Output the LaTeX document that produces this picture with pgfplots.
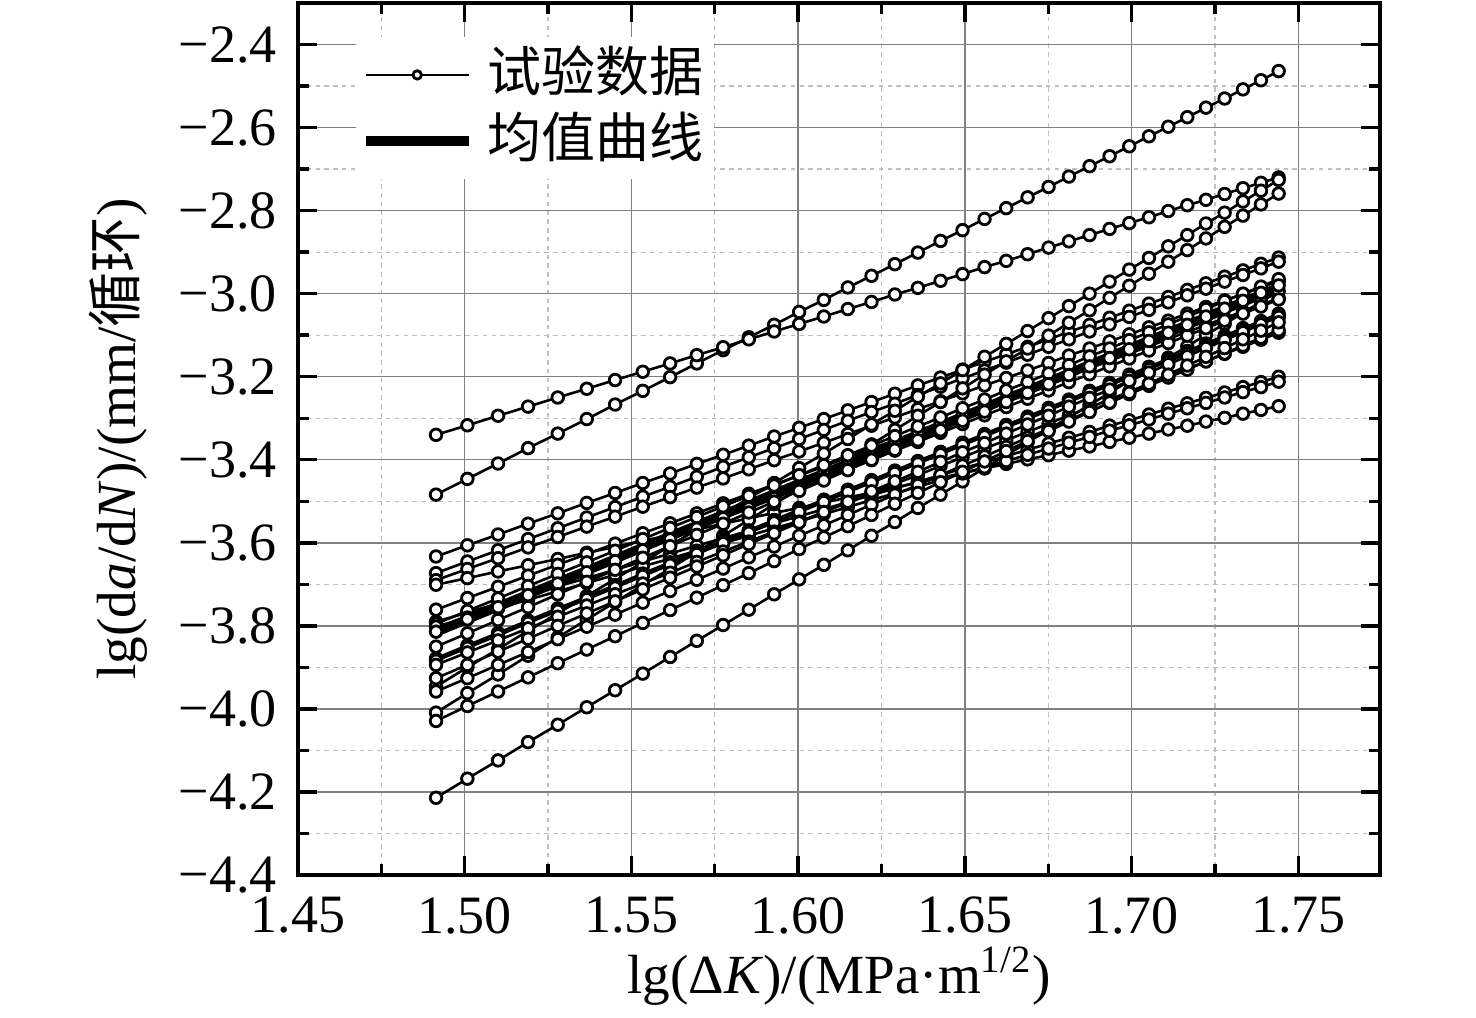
\documentclass[border=0pt]{standalone}
\usepackage{fontspec}
\setmainfont{Liberation Serif}
\newfontfamily\cjk{Noto Sans CJK SC}
\usepackage{pgfplots}
\usepackage{pgfplotstable}
\pgfplotsset{compat=1.18}

% each row is one series: x positions, then 21 test curves and the mean curve
\pgfplotstableread{
name c0 c1 c2 c3 c4 c5 c6 c7 c8 c9 c10 c11 c12 c13 c14 c15 c16 c17 c18 c19 c20 c21 c22 c23 c24 c25 c26 c27 c28 c29 c30 c31 c32 c33 c34 c35 c36
x 1.4914 1.5008 1.5100 1.5190 1.5279 1.5366 1.5451 1.5534 1.5616 1.5696 1.5775 1.5852 1.5928 1.6003 1.6077 1.6149 1.6220 1.6290 1.6359 1.6427 1.6493 1.6559 1.6624 1.6688 1.6751 1.6812 1.6874 1.6934 1.6993 1.7052 1.7110 1.7167 1.7223 1.7279 1.7334 1.7388 1.7441
y1 -3.484 -3.446 -3.409 -3.372 -3.337 -3.302 -3.267 -3.234 -3.201 -3.168 -3.136 -3.105 -3.075 -3.044 -3.015 -2.985 -2.957 -2.929 -2.901 -2.873 -2.847 -2.820 -2.794 -2.768 -2.743 -2.718 -2.693 -2.669 -2.645 -2.621 -2.598 -2.575 -2.552 -2.530 -2.508 -2.486 -2.464
y2 -3.340 -3.317 -3.294 -3.272 -3.250 -3.229 -3.208 -3.188 -3.168 -3.148 -3.129 -3.110 -3.091 -3.073 -3.055 -3.037 -3.020 -3.002 -2.986 -2.969 -2.953 -2.936 -2.921 -2.905 -2.889 -2.874 -2.859 -2.844 -2.830 -2.816 -2.801 -2.787 -2.774 -2.760 -2.746 -2.733 -2.720
y3 -3.633 -3.606 -3.580 -3.554 -3.529 -3.504 -3.480 -3.456 -3.433 -3.410 -3.388 -3.366 -3.344 -3.323 -3.302 -3.281 -3.261 -3.241 -3.221 -3.202 -3.183 -3.164 -3.146 -3.128 -3.110 -3.092 -3.075 -3.058 -3.041 -3.024 -3.008 -2.991 -2.975 -2.959 -2.944 -2.928 -2.913
y4 -3.673 -3.645 -3.618 -3.591 -3.565 -3.539 -3.514 -3.489 -3.465 -3.441 -3.417 -3.394 -3.372 -3.350 -3.328 -3.306 -3.285 -3.265 -3.244 -3.224 -3.204 -3.185 -3.166 -3.147 -3.128 -3.110 -3.091 -3.074 -3.056 -3.039 -3.021 -3.004 -2.988 -2.971 -2.955 -2.939 -2.923
y5 -3.690 -3.663 -3.637 -3.611 -3.586 -3.561 -3.537 -3.513 -3.490 -3.467 -3.445 -3.423 -3.401 -3.380 -3.359 -3.338 -3.318 -3.298 -3.278 -3.259 -3.240 -3.221 -3.203 -3.185 -3.167 -3.149 -3.132 -3.115 -3.098 -3.081 -3.065 -3.048 -3.032 -3.016 -3.001 -2.985 -2.970
y6 -3.701 -3.685 -3.669 -3.654 -3.639 -3.624 -3.610 -3.595 -3.582 -3.568 -3.554 -3.541 -3.528 -3.516 -3.503 -3.491 -3.479 -3.467 -3.455 -3.444 -3.432 -3.421 -3.410 -3.399 -3.389 -3.378 -3.368 -3.357 -3.347 -3.337 -3.327 -3.318 -3.308 -3.299 -3.289 -3.280 -3.271
y7 -3.761 -3.733 -3.706 -3.679 -3.653 -3.627 -3.602 -3.577 -3.553 -3.529 -3.505 -3.482 -3.460 -3.438 -3.416 -3.394 -3.373 -3.353 -3.332 -3.312 -3.292 -3.273 -3.254 -3.235 -3.216 -3.198 -3.179 -3.162 -3.144 -3.127 -3.109 -3.092 -3.076 -3.059 -3.043 -3.027 -3.011
y8 -3.946 -3.900 -3.856 -3.812 -3.770 -3.728 -3.687 -3.647 -3.607 -3.568 -3.530 -3.493 -3.456 -3.420 -3.385 -3.350 -3.315 -3.282 -3.248 -3.216 -3.184 -3.152 -3.121 -3.090 -3.059 -3.030 -3.000 -2.971 -2.942 -2.914 -2.886 -2.859 -2.831 -2.805 -2.778 -2.752 -2.726
y9 -4.009 -3.962 -3.917 -3.872 -3.828 -3.785 -3.743 -3.702 -3.662 -3.622 -3.583 -3.545 -3.507 -3.470 -3.434 -3.398 -3.363 -3.328 -3.294 -3.261 -3.228 -3.195 -3.163 -3.132 -3.101 -3.070 -3.040 -3.010 -2.981 -2.952 -2.923 -2.895 -2.867 -2.839 -2.812 -2.785 -2.759
y10 -4.214 -4.168 -4.124 -4.080 -4.038 -3.996 -3.955 -3.915 -3.875 -3.836 -3.798 -3.761 -3.724 -3.688 -3.653 -3.618 -3.583 -3.550 -3.516 -3.484 -3.452 -3.420 -3.389 -3.358 -3.327 -3.298 -3.268 -3.239 -3.210 -3.182 -3.154 -3.127 -3.099 -3.073 -3.046 -3.020 -2.994
y11 -3.790 -3.768 -3.746 -3.725 -3.705 -3.685 -3.665 -3.645 -3.626 -3.607 -3.589 -3.571 -3.553 -3.536 -3.519 -3.502 -3.485 -3.469 -3.453 -3.437 -3.421 -3.406 -3.391 -3.376 -3.361 -3.347 -3.333 -3.318 -3.305 -3.291 -3.277 -3.264 -3.251 -3.238 -3.225 -3.213 -3.200
y12 -3.795 -3.764 -3.734 -3.704 -3.675 -3.647 -3.619 -3.591 -3.564 -3.538 -3.512 -3.487 -3.462 -3.437 -3.413 -3.389 -3.366 -3.343 -3.320 -3.298 -3.276 -3.255 -3.233 -3.213 -3.192 -3.172 -3.151 -3.132 -3.112 -3.093 -3.074 -3.055 -3.037 -3.018 -3.000 -2.983 -2.965
y13 -3.802 -3.780 -3.758 -3.737 -3.717 -3.697 -3.677 -3.657 -3.638 -3.619 -3.601 -3.583 -3.565 -3.548 -3.531 -3.514 -3.497 -3.481 -3.465 -3.449 -3.433 -3.418 -3.403 -3.388 -3.373 -3.359 -3.345 -3.330 -3.317 -3.303 -3.289 -3.276 -3.263 -3.250 -3.237 -3.225 -3.212
y14 -3.814 -3.784 -3.755 -3.726 -3.698 -3.671 -3.644 -3.618 -3.592 -3.566 -3.541 -3.517 -3.493 -3.469 -3.446 -3.423 -3.401 -3.378 -3.357 -3.335 -3.314 -3.293 -3.273 -3.253 -3.233 -3.213 -3.194 -3.175 -3.156 -3.137 -3.119 -3.101 -3.083 -3.065 -3.048 -3.031 -3.014
y15 -3.850 -3.818 -3.786 -3.755 -3.724 -3.694 -3.665 -3.636 -3.608 -3.581 -3.554 -3.527 -3.501 -3.475 -3.450 -3.425 -3.400 -3.376 -3.353 -3.329 -3.306 -3.284 -3.261 -3.239 -3.218 -3.196 -3.175 -3.155 -3.134 -3.114 -3.094 -3.075 -3.055 -3.036 -3.017 -2.998 -2.980
y16 -3.878 -3.847 -3.817 -3.787 -3.758 -3.730 -3.702 -3.674 -3.647 -3.621 -3.595 -3.570 -3.545 -3.520 -3.496 -3.472 -3.449 -3.426 -3.403 -3.381 -3.359 -3.338 -3.316 -3.296 -3.275 -3.255 -3.234 -3.215 -3.195 -3.176 -3.157 -3.138 -3.120 -3.101 -3.083 -3.066 -3.048
y17 -3.884 -3.853 -3.823 -3.793 -3.764 -3.736 -3.708 -3.680 -3.653 -3.627 -3.601 -3.576 -3.551 -3.526 -3.502 -3.478 -3.455 -3.432 -3.409 -3.387 -3.365 -3.344 -3.322 -3.302 -3.281 -3.261 -3.240 -3.221 -3.201 -3.182 -3.163 -3.144 -3.126 -3.107 -3.089 -3.072 -3.054
y18 -3.894 -3.864 -3.835 -3.806 -3.778 -3.751 -3.724 -3.698 -3.672 -3.646 -3.621 -3.597 -3.573 -3.549 -3.526 -3.503 -3.481 -3.458 -3.437 -3.415 -3.394 -3.373 -3.353 -3.333 -3.313 -3.293 -3.274 -3.255 -3.236 -3.217 -3.199 -3.181 -3.163 -3.145 -3.128 -3.111 -3.094
y19 -3.926 -3.894 -3.862 -3.831 -3.800 -3.770 -3.741 -3.712 -3.684 -3.657 -3.630 -3.603 -3.577 -3.551 -3.526 -3.501 -3.476 -3.452 -3.429 -3.405 -3.382 -3.360 -3.337 -3.315 -3.294 -3.272 -3.251 -3.231 -3.210 -3.190 -3.170 -3.151 -3.131 -3.112 -3.093 -3.074 -3.056
y20 -3.958 -3.926 -3.894 -3.863 -3.832 -3.802 -3.773 -3.744 -3.716 -3.689 -3.662 -3.635 -3.609 -3.583 -3.558 -3.533 -3.508 -3.484 -3.461 -3.437 -3.414 -3.392 -3.369 -3.347 -3.326 -3.304 -3.283 -3.263 -3.242 -3.222 -3.202 -3.183 -3.163 -3.144 -3.125 -3.106 -3.088
y21 -4.029 -3.993 -3.958 -3.924 -3.890 -3.857 -3.825 -3.793 -3.762 -3.732 -3.702 -3.673 -3.644 -3.615 -3.587 -3.560 -3.533 -3.506 -3.480 -3.454 -3.429 -3.404 -3.379 -3.355 -3.331 -3.308 -3.285 -3.262 -3.239 -3.217 -3.195 -3.173 -3.152 -3.131 -3.110 -3.089 -3.069
mean -3.815 -3.784 -3.754 -3.724 -3.695 -3.667 -3.639 -3.611 -3.584 -3.558 -3.532 -3.507 -3.482 -3.457 -3.433 -3.409 -3.386 -3.363 -3.340 -3.318 -3.296 -3.275 -3.253 -3.233 -3.212 -3.192 -3.171 -3.152 -3.132 -3.113 -3.094 -3.075 -3.057 -3.038 -3.020 -3.003 -2.985
}\rawtable
\pgfplotstabletranspose[colnames from=name]{\datatable}{\rawtable}

\pgfplotsset{
  testline/.style={black, line width=0.65pt, mark=*, mark size=1.45pt,
    mark options={fill=white, draw=black, line width=0.7pt, solid}},
}

\begin{document}
\begin{tikzpicture}[font=\fontsize{13.5}{16}\selectfont]
\path[use as bounding box] (-74.5pt,-35.5pt) rectangle (294.5pt,218.75pt);
\begin{axis}[
  at={(0pt,0pt)}, anchor=south west,
  scale only axis, width=270.5pt, height=218pt,
  xmin=1.45, xmax=1.7745, ymin=-4.4, ymax=-2.3,
  xtick={1.45,1.5,1.55,1.6,1.65,1.7,1.75},
  xticklabels={1.45,1.50,1.55,1.60,1.65,1.70,1.75},
  ytick={-4.4,-4.2,-4.0,-3.8,-3.6,-3.4,-3.2,-3.0,-2.8,-2.6,-2.4},
  yticklabels={−4.4,−4.2,−4.0,−3.8,−3.6,−3.4,−3.2,−3.0,−2.8,−2.6,−2.4},
  minor x tick num=1, minor y tick num=1,
  grid=both,
  major grid style={black!50, line width=0.35pt},
  minor grid style={black!25, line width=0.3pt, dash pattern=on 1.1pt off 1.1pt},
  tick align=inside,
  major tick length=4.75pt, minor tick length=2.75pt,
  tick style={black, line width=0.85pt},
  axis line style={line width=0.9pt},
  tick label style={font=\fontsize{13.5}{16}\selectfont},
  xticklabel style={yshift=-2pt},
  yticklabel style={xshift=-1.75pt},
  xlabel={lg(Δ\textit{K})/(MPa·m\textsuperscript{1/2})},
  ylabel={lg(d\textit{a}/d\textit{N})/(mm/{\cjk 循环})},
  label style={font=\fontsize{13.8}{16}\selectfont},
  xlabel style={at={(axis description cs:0.5,-0.116)}, anchor=center},
  ylabel style={at={(axis description cs:-0.1664,0.5)}, anchor=center},
  legend cell align=left,
  legend style={draw=none, fill=white, at={(rel axis cs:0.053,0.962)}, anchor=north west,
    inner sep=1.25pt, row sep=0pt, font=\fontsize{13.5}{16}\selectfont,
    nodes={inner sep=1.5pt, text height=11pt, text depth=2.5pt},
    /tikz/every odd column/.append style={column sep=2pt}},
]
\addplot[testline, legend image code/.code={\draw[line width=0.5pt, mark repeat=2, mark phase=2, mark size=1.05pt] plot coordinates {(0pt,0pt) (12.875pt,0pt) (25.75pt,0pt)};}] table[x=x, y=y1] {\datatable};
\addlegendentry{{\cjk 试验数据}}
\addplot[testline, forget plot] table[x=x, y=y2] {\datatable};
\addplot[testline, forget plot] table[x=x, y=y3] {\datatable};
\addplot[testline, forget plot] table[x=x, y=y4] {\datatable};
\addplot[testline, forget plot] table[x=x, y=y5] {\datatable};
\addplot[testline, forget plot] table[x=x, y=y6] {\datatable};
\addplot[testline, forget plot] table[x=x, y=y7] {\datatable};
\addplot[testline, forget plot] table[x=x, y=y8] {\datatable};
\addplot[testline, forget plot] table[x=x, y=y9] {\datatable};
\addplot[testline, forget plot] table[x=x, y=y10] {\datatable};
\addplot[testline, forget plot] table[x=x, y=y11] {\datatable};
\addplot[testline, forget plot] table[x=x, y=y12] {\datatable};
\addplot[testline, forget plot] table[x=x, y=y13] {\datatable};
\addplot[testline, forget plot] table[x=x, y=y14] {\datatable};
\addplot[testline, forget plot] table[x=x, y=y15] {\datatable};
\addplot[testline, forget plot] table[x=x, y=y16] {\datatable};
\addplot[testline, forget plot] table[x=x, y=y17] {\datatable};
\addplot[testline, forget plot] table[x=x, y=y18] {\datatable};
\addplot[testline, forget plot] table[x=x, y=y19] {\datatable};
\addplot[testline, forget plot] table[x=x, y=y20] {\datatable};
\addplot[testline, forget plot] table[x=x, y=y21] {\datatable};
\addplot[black, line width=2.3pt, no marks, line join=round,
  legend image code/.code={\draw (0pt,0pt) -- (25.75pt,0pt);}] table[x=x, y=mean] {\datatable};
\addlegendentry{{\cjk 均值曲线}}
\end{axis}
\end{tikzpicture}
\end{document}
